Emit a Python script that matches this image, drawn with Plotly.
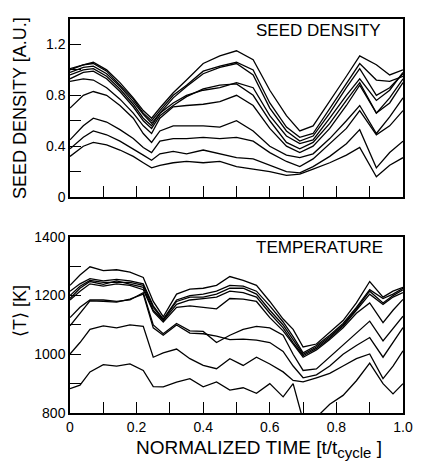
import plotly.graph_objects as go

# ---------------- data ----------------
# Seed density panel (normalized time grid)
t_seed = [0, 0.04, 0.07, 0.11, 0.15, 0.19, 0.22, 0.245, 0.27, 0.31, 0.35, 0.40,
          0.45, 0.50, 0.55, 0.60, 0.65, 0.69, 0.73, 0.78, 0.83, 0.87, 0.92, 0.96, 1.0]

seed_1 = [1.00, 1.04, 1.06, 1.00, 0.90, 0.78, 0.68, 0.62, 0.70, 0.82, 0.92, 1.05,
          1.11, 1.15, 1.08, 0.84, 0.64, 0.52, 0.56, 0.75, 0.95, 1.11, 1.04, 0.96, 1.00]
seed_2 = [1.01, 1.04, 1.05, 0.99, 0.88, 0.77, 0.66, 0.60, 0.68, 0.80, 0.88, 0.99,
          1.03, 1.06, 1.00, 0.74, 0.55, 0.47, 0.50, 0.70, 0.90, 1.05, 0.92, 0.91, 0.95]
seed_3 = [0.98, 1.02, 1.03, 0.97, 0.87, 0.75, 0.65, 0.58, 0.66, 0.78, 0.87, 0.97,
          1.02, 1.05, 0.96, 0.70, 0.52, 0.44, 0.48, 0.66, 0.86, 1.01, 0.80, 0.86, 0.97]
seed_4 = [0.96, 1.00, 1.01, 0.95, 0.85, 0.73, 0.62, 0.56, 0.66, 0.74, 0.80, 0.84,
          0.86, 0.90, 0.86, 0.64, 0.48, 0.42, 0.45, 0.62, 0.80, 0.93, 0.76, 0.84, 0.98]
seed_5 = [0.93, 0.98, 0.99, 0.93, 0.83, 0.71, 0.60, 0.54, 0.64, 0.72, 0.79, 0.85,
          0.88, 0.89, 0.80, 0.60, 0.43, 0.38, 0.43, 0.58, 0.76, 0.90, 0.66, 0.78, 0.93]
seed_6 = [0.91, 0.93, 0.92, 0.86, 0.77, 0.66, 0.56, 0.50, 0.62, 0.71, 0.72, 0.73,
          0.75, 0.80, 0.72, 0.54, 0.40, 0.35, 0.40, 0.54, 0.72, 0.88, 0.66, 0.74, 0.90]
seed_7 = [0.70, 0.80, 0.83, 0.80, 0.72, 0.62, 0.50, 0.43, 0.52, 0.56, 0.56, 0.56,
          0.55, 0.60, 0.52, 0.40, 0.33, 0.31, 0.34, 0.46, 0.60, 0.72, 0.50, 0.63, 0.78]
seed_8 = [0.45, 0.56, 0.62, 0.59, 0.53, 0.46, 0.39, 0.35, 0.44, 0.46, 0.46, 0.47,
          0.46, 0.47, 0.44, 0.35, 0.28, 0.24, 0.30, 0.42, 0.54, 0.68, 0.49, 0.56, 0.68]
seed_9 = [0.38, 0.47, 0.52, 0.49, 0.44, 0.38, 0.33, 0.29, 0.34, 0.36, 0.34, 0.37,
          0.34, 0.31, 0.30, 0.25, 0.20, 0.19, 0.24, 0.32, 0.42, 0.53, 0.23, 0.35, 0.44]
seed_10 = [0.32, 0.40, 0.43, 0.41, 0.37, 0.32, 0.27, 0.23, 0.25, 0.27, 0.28, 0.27,
           0.28, 0.24, 0.22, 0.20, 0.17, 0.18, 0.22, 0.27, 0.33, 0.39, 0.16, 0.25, 0.31]

seed_series = [seed_1, seed_2, seed_3, seed_4, seed_5,
               seed_6, seed_7, seed_8, seed_9, seed_10]

# Temperature panel
t_temp = [0, 0.03, 0.06, 0.10, 0.14, 0.18, 0.22, 0.25, 0.28, 0.32, 0.36, 0.40, 0.44, 0.48,
          0.52, 0.56, 0.60, 0.64, 0.67, 0.70, 0.74, 0.78, 0.82, 0.86, 0.90, 0.94, 0.97, 1.0]

temp_1 = [1235, 1270, 1298, 1285, 1288, 1280, 1262, 1180, 1128, 1205, 1222, 1225, 1235, 1265,
          1252, 1235, 1180, 1120, 1085, 1025, 1035, 1075, 1115, 1175, 1248, 1195, 1215, 1228]
temp_2 = [1215, 1240, 1258, 1250, 1255, 1250, 1240, 1165, 1120, 1185, 1200, 1205, 1215, 1235,
          1232, 1215, 1165, 1110, 1060, 1005, 1030, 1065, 1105, 1160, 1220, 1190, 1205, 1225]
temp_3 = [1200, 1232, 1252, 1245, 1245, 1245, 1235, 1160, 1118, 1180, 1195, 1195, 1205, 1225,
          1225, 1205, 1150, 1100, 1050, 1000, 1025, 1060, 1100, 1155, 1215, 1175, 1200, 1220]
temp_4 = [1190, 1225, 1248, 1238, 1250, 1240, 1228, 1150, 1115, 1170, 1185, 1190, 1195, 1215,
          1210, 1195, 1140, 1090, 1040, 995, 1020, 1055, 1095, 1150, 1205, 1170, 1195, 1210]
temp_5 = [1185, 1215, 1240, 1232, 1240, 1235, 1220, 1145, 1110, 1160, 1165, 1160, 1155, 1190,
          1188, 1180, 1125, 1080, 1035, 990, 1015, 1050, 1090, 1140, 1175, 1108, 1150, 1187]
temp_6 = [1125, 1160, 1185, 1185, 1180, 1185, 1210, 1100, 1070, 1105, 1080, 1078, 1040, 1065,
          1085, 1095, 1090, 1065, 1000, 945, 950, 990, 1030, 1070, 1113, 1046, 1090, 1130]
temp_7 = [1097, 1140, 1182, 1180, 1178, 1188, 1205, 1090, 1065, 1100, 1072, 1070, 1062, 1050,
          1052, 1048, 1040, 1010, 960, 920, 930, 960, 1000, 1030, 1057, 990, 1040, 1091]
temp_8 = [1001, 1040, 1085, 1097, 1090, 1100, 1095, 990, 1005, 1018, 985, 962, 951, 985,
          962, 990, 967, 940, 911, 906, 920, 935, 960, 985, 1001, 917, 960, 1012]
temp_9 = [883, 895, 940, 965, 960, 967, 945, 890, 889, 905, 917, 889, 906, 878,
          886, 867, 900, 855, 900, 775, 785, 830, 860, 910, 970, 900, 865, 900]

temp_series = [temp_1, temp_2, temp_3, temp_4, temp_5, temp_6, temp_7, temp_8, temp_9]

# ticks (labelled major ticks and unlabelled minor ticks)
x_tickvals = [0, 0.2, 0.4, 0.6, 0.8, 1.0]
x_ticktext = ["0", "0.2", "0.4", "0.6", "0.8", "1.0"]
x_minorvals = [0.1, 0.3, 0.5, 0.7, 0.9]
seed_tickvals = [0, 0.4, 0.8, 1.2]
seed_ticktext = ["0", "0.4", "0.8", "1.2"]
seed_minorvals = [0.2, 0.6, 1.0]
temp_tickvals = [800, 1000, 1200, 1400]
temp_ticktext = ["800", "1000", "1200", "1400"]
temp_minorvals = [900, 1100, 1300]

# ---------------- figure ----------------
FONT = "Liberation Sans, Arial, Helvetica, sans-serif"
fig = go.Figure()

line_style = dict(color="black", width=1.3)
for s in seed_series:
    fig.add_trace(go.Scatter(x=t_seed, y=s, mode="lines", line=line_style,
                             xaxis="x", yaxis="y", showlegend=False, hoverinfo="skip"))
for s in temp_series:
    fig.add_trace(go.Scatter(x=t_temp, y=s, mode="lines", line=line_style,
                             xaxis="x2", yaxis="y2", showlegend=False, hoverinfo="skip"))

axis_common = dict(showgrid=False, zeroline=False, showline=True, linecolor="black",
                   linewidth=1.5, mirror=True, ticks="inside", ticklen=11, tickwidth=1.2,
                   tickcolor="black", tickfont=dict(family=FONT, size=14, color="black"))


def minor(vals):
    return dict(tickmode="array", tickvals=vals, ticks="inside", ticklen=11,
                tickwidth=1.2, tickcolor="black", showgrid=False)


fig.update_layout(
    width=424, height=462,
    margin=dict(l=70, r=11, t=15, b=49),
    paper_bgcolor="white", plot_bgcolor="white",
    xaxis=dict(domain=[0, 1], range=[0, 1], anchor="y", tickmode="array",
               tickvals=x_tickvals, showticklabels=False, minor=minor(x_minorvals),
               **axis_common),
    yaxis=dict(domain=[0.548, 1], range=[0, 1.4], anchor="x", tickmode="array",
               tickvals=seed_tickvals, ticktext=seed_ticktext, minor=minor(seed_minorvals),
               **axis_common),
    xaxis2=dict(domain=[0, 1], range=[0, 1], anchor="y2", tickmode="array",
                tickvals=x_tickvals, ticktext=x_ticktext, ticklabelstandoff=0,
                minor=minor(x_minorvals), **axis_common),
    yaxis2=dict(domain=[0, 0.447], range=[800, 1400], anchor="x2", tickmode="array",
                tickvals=temp_tickvals, ticktext=temp_ticktext, minor=minor(temp_minorvals),
                **axis_common),
    annotations=[
        dict(text="SEED DENSITY", xref="paper", yref="paper", x=0.94, y=0.972,
             xanchor="right", yanchor="middle", showarrow=False,
             font=dict(family=FONT, size=17, color="black")),
        dict(text="TEMPERATURE", xref="paper", yref="paper", x=0.945, y=0.419,
             xanchor="right", yanchor="middle", showarrow=False,
             font=dict(family=FONT, size=17, color="black")),
        dict(text="SEED DENSITY [A.U.]", xref="paper", yref="paper", x=-0.152, y=0.775,
             xanchor="center", yanchor="middle", textangle=-90, showarrow=False,
             font=dict(family=FONT, size=18, color="black")),
        dict(text="\u27e8T\u27e9 [K]", xref="paper", yref="paper", x=-0.152, y=0.26,
             xanchor="center", yanchor="middle", textangle=-90, showarrow=False,
             font=dict(family=FONT, size=18, color="black")),
        dict(text="NORMALIZED TIME [t/t<sub><span style='font-size:15px'>cycle</span></sub> ]",
             xref="paper", yref="paper", borderpad=0,
             x=0.569, y=-0.091, xanchor="center", yanchor="middle", showarrow=False,
             font=dict(family=FONT, size=19, color="black")),
    ],
)

fig.write_html("out.html")
